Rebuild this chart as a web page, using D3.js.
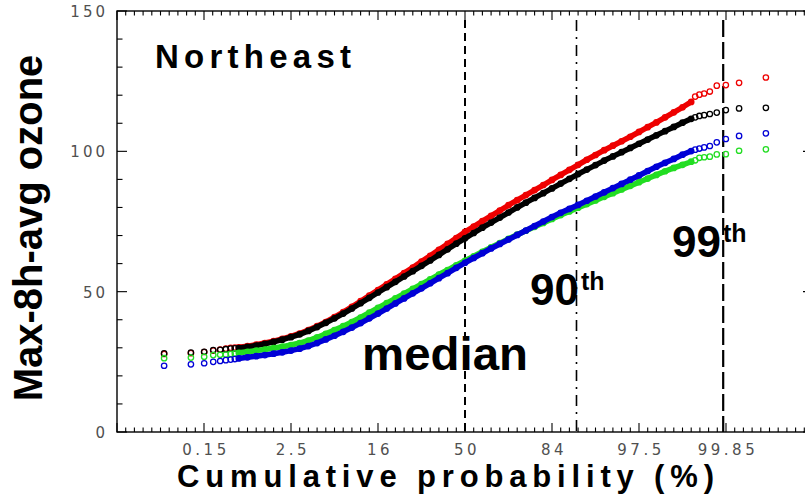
<!DOCTYPE html>
<html>
<head>
<meta charset="utf-8">
<script src="https://cdn.jsdelivr.net/npm/d3@7"></script>
<style>
  body { margin: 0; background: #fff; }
  svg { display: block; }
</style>
</head>
<body>
<svg id="chart" width="805" height="494"></svg>
<script>
// ---------------- data ----------------
const regionName = "Northeast";
const yTitle = "Max-8h-avg ozone";
const xTitle = "Cumulative probability (%)";

// probit-axis ticks (standard normal quantiles) and their labels (%)
const xTickZ = [-3, -2, -1, 0, 1, 2, 3];
const xTickLabels = ["0.15", "2.5", "16", "50", "84", "97.5", "99.85"];
const yTickValues = [0, 50, 100, 150];

// percentile guide lines
const guideProbs = [50, 90, 99.85];
const guideLabels = ["median", "90", "99"];

// number of daily values in each distribution
const nDays = 1840;
// ranks plotted individually in each tail
const lowRanks = [1, 2, 3, 4, 5, 6, 7, 8];
const highRanks = [nDays - 7, nDays - 6, nDays - 5, nDays - 4, nDays - 3, nDays - 2, nDays - 1, nDays];
// central part of each distribution, sampled on a grid of normal quantiles
const gridZ = d3.range(-26, 27).map(k => k / 10);

// series values (ppb): lowest ranks, central grid, highest ranks
const redLow  = [27.8, 28.1, 28.5, 29.0, 29.4, 29.7, 30.0, 30.1];
const redMid  = [30.2, 30.6, 31.1, 31.7, 32.4, 33.2, 34.1, 35.1, 36.3, 37.7, 39.2, 40.9, 42.7,
                 44.6, 46.6, 48.6, 50.6, 52.6, 54.6, 56.6, 58.6, 60.7, 62.8, 64.9, 67.0, 69.1,
                 71.3, 73.2, 75.1, 77.0, 78.9, 80.8, 82.6, 84.4, 86.2, 88.0, 89.8, 91.6, 93.4,
                 95.2, 97.0, 98.7, 100.4, 102.0, 103.6, 105.2, 106.9, 108.6, 110.3, 112.1, 113.9,
                 115.7, 117.6];
const redHigh = [119.5, 120.2, 120.6, 121.3, 123.4, 123.6, 124.4, 126.3];

const blackLow  = [28.0, 28.3, 28.6, 29.2, 29.3, 29.5, 29.7, 29.8];
const blackMid  = [29.9, 30.3, 30.8, 31.4, 32.1, 32.9, 33.8, 34.8, 36.0, 37.4, 38.9, 40.5, 42.2,
                   44.0, 45.9, 47.8, 49.7, 51.6, 53.5, 55.4, 57.3, 59.2, 61.1, 63.1, 65.1, 67.1,
                   69.0, 70.9, 72.8, 74.6, 76.4, 78.2, 80.0, 81.7, 83.4, 85.1, 86.8, 88.5, 90.2,
                   91.9, 93.5, 95.1, 96.7, 98.2, 99.7, 101.2, 102.7, 104.2, 105.7, 107.2, 108.7,
                   110.2, 111.6];
const blackHigh = [112.1, 112.6, 112.9, 113.3, 113.8, 114.7, 115.3, 115.5];

const greenLow  = [26.3, 26.5, 26.8, 27.4, 27.5, 27.6, 27.8, 28.0];
const greenMid  = [28.2, 28.6, 29.0, 29.4, 29.9, 30.4, 31.0, 31.7, 32.6, 33.7, 35.0, 36.3, 37.7,
                   39.2, 40.8, 42.5, 44.2, 45.9, 47.6, 49.3, 51.0, 52.7, 54.4, 56.1, 57.7, 59.4,
                   61.0, 62.6, 64.2, 65.8, 67.3, 68.8, 70.3, 71.7, 73.1, 74.5, 75.9, 77.3, 78.6,
                   79.9, 81.2, 82.5, 83.8, 85.1, 86.4, 87.7, 89.0, 90.3, 91.6, 92.9, 94.1, 95.2,
                   96.3];
const greenHigh = [96.8, 97.7, 97.9, 98.1, 98.9, 99.0, 100.2, 100.7];

const blueLow  = [23.6, 24.1, 24.5, 25.0, 25.3, 25.6, 25.8, 26.0];
const blueMid  = [26.2, 26.6, 27.0, 27.4, 27.9, 28.4, 29.0, 29.7, 30.6, 31.7, 33.0, 34.3, 35.7,
                  37.2, 38.8, 40.5, 42.2, 44.0, 45.8, 47.6, 49.4, 51.2, 53.0, 54.8, 56.6, 58.5,
                  60.3, 62.0, 63.7, 65.4, 67.0, 68.6, 70.2, 71.8, 73.4, 75.0, 76.6, 78.1, 79.5,
                  80.9, 82.4, 83.9, 85.4, 86.9, 88.4, 89.9, 91.4, 93.0, 94.5, 95.9, 97.3, 98.8,
                  100.1];
const blueHigh = [100.6, 101.0, 101.4, 101.9, 103.2, 104.4, 105.5, 106.4];

const seriesColors = ["#ee0000", "#000000", "#22dd22", "#0000d6"];
const seriesData = [
  [redLow, redMid, redHigh],
  [blackLow, blackMid, blackHigh],
  [greenLow, greenMid, greenHigh],
  [blueLow, blueMid, blueHigh]
];

// ---------------- helpers ----------------
// inverse standard normal CDF (Acklam's rational approximation)
function probit(p) {
  const a = [-3.969683028665376e+01, 2.209460984245205e+02, -2.759285104469687e+02,
             1.383577518672690e+02, -3.066479806614716e+01, 2.506628277459239e+00];
  const b = [-5.447609879822406e+01, 1.615858368580409e+02, -1.556989798598866e+02,
             6.680131188771972e+01, -1.328068155288572e+01];
  const c = [-7.784894002430293e-03, -3.223964580411365e-01, -2.400758277161838e+00,
             -2.549732539343734e+00, 4.374664141464968e+00, 2.938163982698783e+00];
  const d = [7.784695709041462e-03, 3.224671290700398e-01, 2.445134137142996e+00,
             3.754408661907416e+00];
  const pl = 0.02425, ph = 1 - pl;
  let q, r;
  if (p < pl) {
    q = Math.sqrt(-2 * Math.log(p));
    return (((((c[0]*q+c[1])*q+c[2])*q+c[3])*q+c[4])*q+c[5]) / ((((d[0]*q+d[1])*q+d[2])*q+d[3])*q+1);
  }
  if (p <= ph) {
    q = p - 0.5; r = q * q;
    return (((((a[0]*r+a[1])*r+a[2])*r+a[3])*r+a[4])*r+a[5])*q / (((((b[0]*r+b[1])*r+b[2])*r+b[3])*r+b[4])*r+1);
  }
  q = Math.sqrt(-2 * Math.log(1 - p));
  return -(((((c[0]*q+c[1])*q+c[2])*q+c[3])*q+c[4])*q+c[5]) / ((((d[0]*q+d[1])*q+d[2])*q+d[3])*q+1);
}
const rankZ = rank => probit((rank - 0.5) / nDays);

// ---------------- layout ----------------
const svg = d3.select("#chart");
const plot = { left: 117, right: 813, top: 11, bottom: 432 };

const x = d3.scaleLinear().domain([-4, 4]).range([plot.left, plot.right]);
const y = d3.scaleLinear().domain([0, 150]).range([plot.bottom, plot.top]);

const tickFont = "'DejaVu Sans', sans-serif";
const boldFont = "'Liberation Sans', Arial, sans-serif";

// ---------------- axes ----------------
const axisG = svg.append("g").attr("stroke", "#000").attr("stroke-width", 1.4).attr("fill", "none");

axisG.append("rect")
  .attr("x", plot.left).attr("y", plot.top)
  .attr("width", plot.right - plot.left).attr("height", plot.bottom - plot.top);

const xMinor = d3.range(-40, 41).map(k => k / 10);
const yMinor = d3.range(0, 151, 10);

// bottom and top ticks
xMinor.forEach(z => {
  const major = Math.abs(z - Math.round(z)) < 1e-9;
  const len = major ? 9 : 4.5;
  axisG.append("line").attr("x1", x(z)).attr("x2", x(z))
    .attr("y1", plot.bottom).attr("y2", plot.bottom - len).attr("stroke-width", 1.1);
  axisG.append("line").attr("x1", x(z)).attr("x2", x(z))
    .attr("y1", plot.top).attr("y2", plot.top + len).attr("stroke-width", 1.1);
});
// left and right ticks
yMinor.forEach(v => {
  const major = v % 50 === 0;
  const len = major ? 10 : 5.5;
  axisG.append("line").attr("y1", y(v)).attr("y2", y(v))
    .attr("x1", plot.left).attr("x2", plot.left + len).attr("stroke-width", 1.1);
  axisG.append("line").attr("y1", y(v)).attr("y2", y(v))
    .attr("x1", plot.right).attr("x2", plot.right - len).attr("stroke-width", 1.1);
});

// tick labels
svg.append("g").selectAll("text").data(xTickZ).join("text")
  .attr("x", z => x(z) + 2).attr("y", 455)
  .attr("text-anchor", "middle")
  .attr("font-family", tickFont).attr("font-size", 15)
  .attr("letter-spacing", 3.5)
  .attr("fill", "#505050")
  .text((z, i) => xTickLabels[i]);

svg.append("g").selectAll("text").data(yTickValues).join("text")
  .attr("x", 108).attr("y", v => y(v) + 6)
  .attr("text-anchor", "end")
  .attr("font-family", tickFont).attr("font-size", 15)
  .attr("letter-spacing", 3)
  .attr("fill", "#505050")
  .text(v => v);

// axis titles
svg.append("text")
  .attr("transform", `translate(42, 228) rotate(-90)`)
  .attr("text-anchor", "middle")
  .attr("font-family", boldFont).attr("font-weight", "bold").attr("font-size", 40)
  .attr("fill", "#000")
  .text(yTitle);

svg.append("text")
  .attr("x", 177).attr("y", 487)
  .attr("font-family", boldFont).attr("font-weight", "bold").attr("font-size", 31)
  .attr("textLength", 537).attr("lengthAdjust", "spacing")
  .attr("fill", "#000")
  .text(xTitle);

svg.append("text")
  .attr("x", 155).attr("y", 68)
  .attr("font-family", boldFont).attr("font-weight", "bold").attr("font-size", 33)
  .attr("textLength", 196).attr("lengthAdjust", "spacing")
  .attr("fill", "#000")
  .text(regionName);

// ---------------- percentile guides ----------------
const guideDash = ["8,5", "11,6,2,6", "17,5"];
const guideWidth = [2, 1.6, 2.2];
guideProbs.forEach((p, i) => {
  svg.append("line")
    .attr("x1", x(probit(p / 100))).attr("x2", x(probit(p / 100)))
    .attr("y1", plot.top + 9).attr("y2", plot.bottom)
    .attr("stroke", "#000").attr("stroke-width", guideWidth[i])
    .attr("stroke-dasharray", guideDash[i]);
});

// ---------------- series ----------------
const line = d3.line().x(d => x(d.z)).y(d => y(d.v));
seriesData.forEach(([low, mid, high], s) => {
  const color = seriesColors[s];
  const midPts = gridZ.map((z, i) => ({ z, v: mid[i] }));
  const tailPts = lowRanks.map((r, i) => ({ z: rankZ(r), v: low[i] }))
    .concat(highRanks.map((r, i) => ({ z: rankZ(r), v: high[i] })));
  const g = svg.append("g");
  g.append("path").datum(midPts)
    .attr("d", line)
    .attr("fill", "none").attr("stroke", color)
    .attr("stroke-width", 5.5).attr("stroke-linejoin", "round").attr("stroke-linecap", "round");
  g.selectAll("circle").data(midPts.concat(tailPts)).join("circle")
    .attr("cx", d => x(d.z)).attr("cy", d => y(d.v)).attr("r", 2.7)
    .attr("fill", "none").attr("stroke", color).attr("stroke-width", 1.3);
});

// ---------------- guide labels ----------------
svg.append("text")
  .attr("x", 362).attr("y", 370)
  .attr("font-family", boldFont).attr("font-weight", "bold").attr("font-size", 46)
  .attr("textLength", 166).attr("lengthAdjust", "spacingAndGlyphs")
  .attr("fill", "#000").text(guideLabels[0]);

const pctLabel = (xPos, yPos, txt) => {
  const t = svg.append("text")
    .attr("x", xPos).attr("y", yPos)
    .attr("font-family", boldFont).attr("font-weight", "bold").attr("font-size", 44)
    .attr("fill", "#000");
  t.append("tspan").text(txt);
  t.append("tspan").attr("font-size", 25).attr("dx", 2).attr("dy", -15).text("th");
};
pctLabel(530, 305, guideLabels[1]);
pctLabel(672, 257, guideLabels[2]);
</script>
</body>
</html>
